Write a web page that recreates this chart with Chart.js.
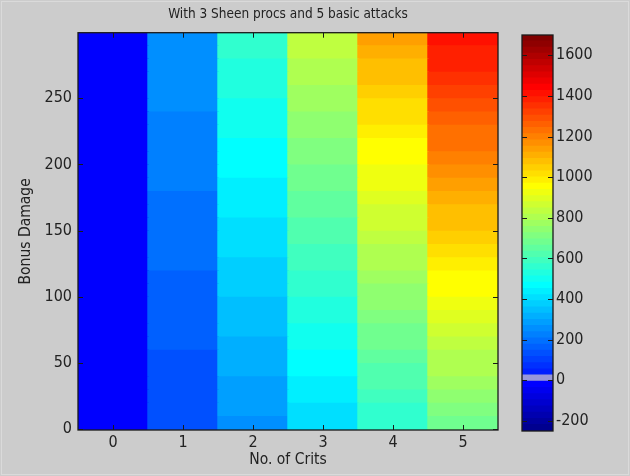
<!DOCTYPE html>
<html>
<head>
<meta charset="utf-8">
<script src="https://cdn.jsdelivr.net/npm/chart.js@4.4.1/dist/chart.umd.min.js"></script>
<style>
    html, body { margin: 0; padding: 0; background: #cccccc; }
    #wrap { position: relative; width: 630px; height: 476px; overflow: hidden; }
    #frame { position: absolute; left: 1px; top: 1px; width: 626px; height: 472px; border: 1px solid #dadada; }
    #heat { position: absolute; left: 0; top: 0; }
    #cbar { position: absolute; left: 515px; top: 0; }
</style>
</head>
<body>
<div id="wrap">
    <div id="frame"></div>
    <canvas id="heat" width="576" height="476"></canvas>
    <canvas id="cbar" width="115" height="476"></canvas>
</div>
<script>
// x categories: number of crits
const crits = ["0", "1", "2", "3", "4", "5"];
// lower edge of each bonus damage row (rows are 10 wide)
const bonusRows = [0, 10, 20, 30, 40, 50, 60, 70, 80, 90, 100, 110, 120, 130, 140,
    150, 160, 170, 180, 190, 200, 210, 220, 230, 240, 250, 260, 270, 280, 290];

// values for each column (bottom row first)
const dmg0 = [-20, -20, -20, -20, -20, -20, -20, -20, -20, -20, -20, -20, -20, -20, -20,
    -20, -20, -20, -20, -20, -20, -20, -20, -20, -20, -20, -20, -20, -20, -20];
const dmg1 = [121, 126, 131, 136, 141, 146, 151, 156, 161, 166, 171, 176, 181, 186, 191,
    196, 201, 206, 211, 216, 221, 226, 231, 236, 241, 246, 251, 256, 261, 266];
const dmg2 = [263, 273, 283, 293, 303, 313, 323, 333, 343, 353, 364, 374, 384, 394, 404,
    414, 424, 434, 444, 454, 464, 474, 484, 494, 504, 514, 524, 534, 544, 554];
const dmg3 = [404, 419, 434, 449, 464, 479, 494, 509, 524, 539, 554, 569, 585, 600, 615,
    630, 645, 660, 675, 690, 705, 720, 735, 750, 765, 781, 796, 811, 826, 841];
const dmg4 = [546, 566, 586, 606, 626, 647, 667, 687, 707, 727, 747, 767, 787, 807, 827,
    848, 868, 888, 908, 928, 948, 968, 988, 1008, 1028, 1049, 1069, 1089, 1109, 1129];
const dmg5 = [687, 712, 737, 762, 787, 813, 838, 863, 888, 913, 939, 964, 989, 1014, 1039,
    1065, 1090, 1115, 1140, 1165, 1191, 1216, 1241, 1266, 1291, 1317, 1342, 1367, 1392, 1417];

const yTicks = [0, 50, 100, 150, 200, 250];
const cbarTicks = [-200, 0, 200, 400, 600, 800, 1000, 1200, 1400, 1600];
const cMin = -250;
const cMax = 1700;
const nColors = 64;

const columns = [dmg0, dmg1, dmg2, dmg3, dmg4, dmg5];
const textColor = "#222222";
const tickFont = { family: "DejaVu Sans Condensed", size: 16 };
const labelFont = { family: "DejaVu Sans Condensed", size: 15.5 };

// matlab jet(64), entry 9 swapped for a grey marker at zero
const jetColor = (i) => {
    if (i === 8) return "rgb(152,152,218)";
    const r = i + 1;
    let red = 0, green = 0, blue = 0;
    if (r >= 25 && r <= 40) red = (r - 24) / 16;
    else if (r > 40 && r <= 56) red = 1;
    else if (r > 56) red = (72 - r) / 16;
    if (r >= 9 && r <= 24) green = (r - 8) / 16;
    else if (r > 24 && r <= 40) green = 1;
    else if (r > 40 && r <= 55) green = (56 - r) / 16;
    if (r <= 8) blue = (r + 8) / 16;
    else if (r <= 24) blue = 1;
    else if (r <= 39) blue = (40 - r) / 16;
    return `rgb(${Math.round(red * 255)},${Math.round(green * 255)},${Math.round(blue * 255)})`;
};

const colorFor = (v) => {
    let i = Math.floor(((v - cMin) / (cMax - cMin)) * nColors);
    i = Math.max(0, Math.min(nColors - 1, i));
    return jetColor(i);
};

// inward tick marks and box, like the matlab axes
const boxTicks = {
    id: "boxTicks",
    afterDatasetsDraw(chart) {
        const { ctx, chartArea: a } = chart;
        ctx.save();
        ctx.strokeStyle = "#1a1a1a";
        ctx.lineWidth = 1;
        ctx.beginPath();
        ["x", "y"].forEach((id) => {
            const s = chart.scales[id];
            if (!s || !s.options.display) return;
            s.ticks.forEach((t, i) => {
                const p = Math.round(s.getPixelForTick(i)) + 0.5;
                if (s.isHorizontal()) {
                    ctx.moveTo(p, a.bottom);
                    ctx.lineTo(p, a.bottom - 5);
                    ctx.moveTo(p, a.top);
                    ctx.lineTo(p, a.top + 5);
                } else {
                    ctx.moveTo(a.left, p);
                    ctx.lineTo(a.left + 5, p);
                    ctx.moveTo(a.right, p);
                    ctx.lineTo(a.right - 5, p);
                }
            });
        });
        ctx.stroke();
        ctx.lineWidth = 1.3;
        ctx.strokeRect(a.left, a.top, a.right - a.left, a.bottom - a.top);
        ctx.restore();
    },
};

const plainTick = (v) => String(v);

const heatSets = bonusRows.map((b, j) => ({
    data: columns.map(() => [b - 0.5, b + 9.5]),
    backgroundColor: columns.map((col) => colorFor(col[j])),
}));

new Chart(document.getElementById("heat"), {
    type: "bar",
    data: { labels: crits, datasets: heatSets },
    options: {
        responsive: false,
        animation: false,
        devicePixelRatio: 1,
        layout: { padding: 0 },
        datasets: {
            bar: {
                grouped: false,
                barPercentage: 1,
                categoryPercentage: 1,
                borderWidth: 0,
                inflateAmount: 0.7,
            },
        },
        plugins: {
            legend: { display: false },
            tooltip: { enabled: false },
            title: {
                display: true,
                text: "With 3 Sheen procs and 5 basic attacks",
                color: textColor,
                font: { family: "DejaVu Sans Condensed", size: 13.5, weight: "normal" },
                padding: { top: 6, bottom: 10.5 },
            },
        },
        scales: {
            x: {
                grid: { display: false, drawTicks: false },
                border: { display: false },
                ticks: { color: textColor, font: tickFont, padding: 3 },
                title: {
                    display: true,
                    text: "No. of Crits",
                    color: textColor,
                    font: labelFont,
                    padding: { top: 0, bottom: 6.5 },
                },
                afterFit: (s) => { s.height = 46; },
            },
            y: {
                min: -0.5,
                max: 299.5,
                afterBuildTicks: (s) => { s.ticks = yTicks.map((v) => ({ value: v })); },
                grid: { display: false, drawTicks: false },
                border: { display: false },
                ticks: { color: textColor, font: tickFont, padding: 6, callback: plainTick },
                title: {
                    display: true,
                    text: "Bonus Damage",
                    color: textColor,
                    font: labelFont,
                    padding: { top: 17, bottom: 0 },
                },
                afterFit: (s) => { s.width = 78; },
            },
            yRight: {
                position: "right",
                min: -0.5,
                max: 299.5,
                grid: { display: false, drawTicks: false },
                border: { display: false },
                ticks: { display: false },
                afterFit: (s) => { s.width = 78; },
            },
        },
    },
    plugins: [boxTicks],
});

// colour bar
const cStep = (cMax - cMin) / nColors;
const barSets = [];
for (let i = 0; i < nColors; i++) {
    barSets.push({
        data: [[cMin + i * cStep, cMin + (i + 1) * cStep]],
        backgroundColor: jetColor(i),
    });
}

new Chart(document.getElementById("cbar"), {
    type: "bar",
    data: { labels: [""], datasets: barSets },
    options: {
        responsive: false,
        animation: false,
        devicePixelRatio: 1,
        layout: { padding: { left: 7, top: 35, bottom: 45, right: 0 } },
        datasets: {
            bar: {
                grouped: false,
                barPercentage: 1,
                categoryPercentage: 1,
                borderWidth: 0,
                inflateAmount: 0.7,
            },
        },
        plugins: { legend: { display: false }, tooltip: { enabled: false } },
        scales: {
            x: { display: false },
            y: {
                position: "right",
                min: cMin,
                max: cMax,
                afterBuildTicks: (s) => { s.ticks = cbarTicks.map((v) => ({ value: v })); },
                grid: { display: false, drawTicks: false },
                border: { display: false },
                ticks: { color: textColor, font: tickFont, padding: 3, callback: plainTick },
                afterFit: (s) => { s.width = 77; },
            },
        },
    },
    plugins: [boxTicks],
});
</script>
</body>
</html>
